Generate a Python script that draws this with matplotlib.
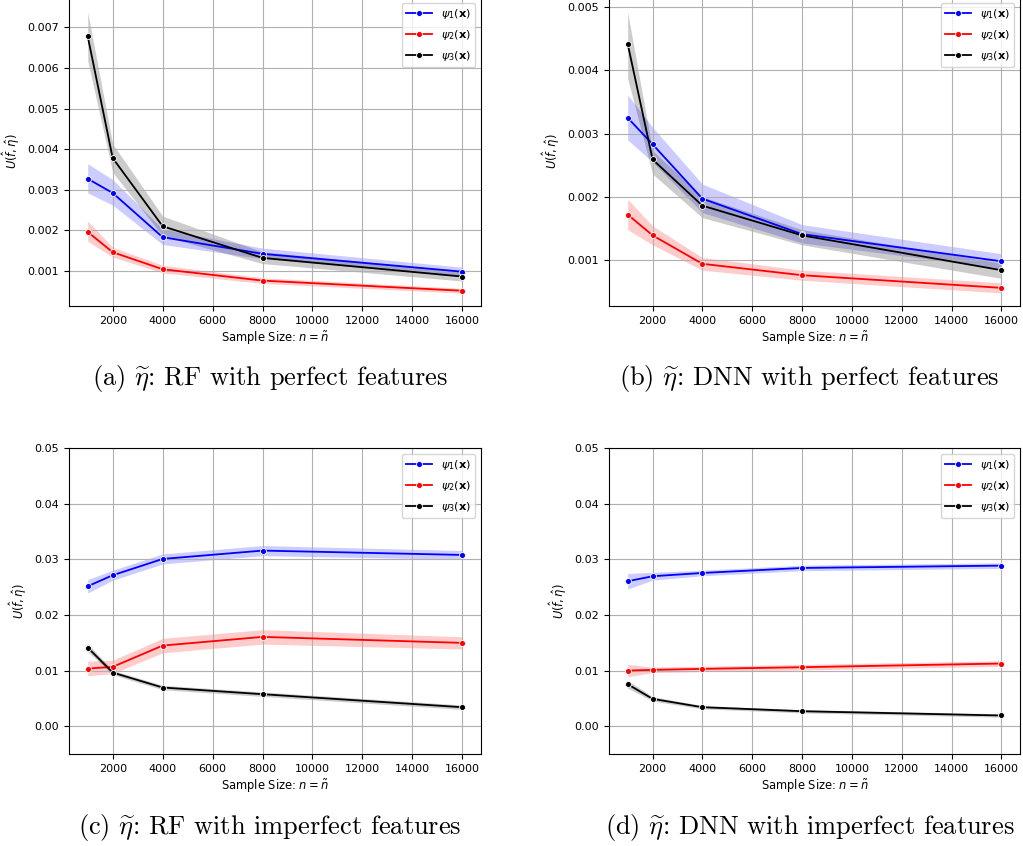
import matplotlib
matplotlib.use("Agg")
import matplotlib.pyplot as plt
import numpy as np

plt.rcParams['mathtext.fontset'] = 'dejavusans'

# sample sizes
sizes = [1000, 2000, 4000, 8000, 16000]
series_names = [r'$\psi_1(\mathbf{x})$', r'$\psi_2(\mathbf{x})$', r'$\psi_3(\mathbf{x})$']
series_colors = ['blue', 'red', 'black']

# (a) RF, perfect features: mean, lower, upper
a_mean = [[0.00327, 0.00292, 0.00183, 0.00142, 0.00098],
          [0.00196, 0.00146, 0.00104, 0.00076, 0.00051],
          [0.00678, 0.00378, 0.00210, 0.00132, 0.00086]]
a_low = [[0.00292, 0.00262, 0.00165, 0.00130, 0.00088],
         [0.00173, 0.00134, 0.00095, 0.00069, 0.00045],
         [0.00618, 0.00343, 0.00186, 0.00118, 0.00075]]
a_high = [[0.00364, 0.00325, 0.00203, 0.00156, 0.00109],
          [0.00223, 0.00158, 0.00114, 0.00083, 0.00057],
          [0.00738, 0.00413, 0.00235, 0.00147, 0.00099]]

# (b) DNN, perfect features
b_mean = [[0.00325, 0.00283, 0.00197, 0.00141, 0.00098],
          [0.00172, 0.00139, 0.00094, 0.00076, 0.00056],
          [0.00442, 0.00259, 0.00186, 0.00139, 0.00084]]
b_low = [[0.00290, 0.00255, 0.00175, 0.00127, 0.00087],
         [0.00148, 0.00124, 0.00084, 0.00068, 0.00048],
         [0.00387, 0.00236, 0.00167, 0.00124, 0.00071]]
b_high = [[0.00361, 0.00310, 0.00220, 0.00156, 0.00110],
          [0.00196, 0.00154, 0.00104, 0.00084, 0.00064],
          [0.00492, 0.00273, 0.00200, 0.00148, 0.00095]]

# (c) RF, imperfect features
c_mean = [[0.02515, 0.02713, 0.03006, 0.03156, 0.03078],
          [0.01036, 0.01066, 0.01449, 0.01605, 0.01497],
          [0.01413, 0.00964, 0.00695, 0.00575, 0.00341]]
c_low = [[0.02395, 0.02623, 0.02916, 0.03066, 0.02998],
         [0.00906, 0.00946, 0.01319, 0.01475, 0.01387],
         [0.01343, 0.00924, 0.00655, 0.00535, 0.00301]]
c_high = [[0.02635, 0.02803, 0.03096, 0.03246, 0.03158],
          [0.01166, 0.01186, 0.01579, 0.01735, 0.01607],
          [0.01483, 0.01004, 0.00735, 0.00615, 0.00381]]

# (d) DNN, imperfect features
d_mean = [[0.02605, 0.02695, 0.02754, 0.02844, 0.02886],
          [0.01000, 0.01012, 0.01030, 0.01060, 0.01126],
          [0.00754, 0.00491, 0.00341, 0.00269, 0.00192]]
d_low = [[0.02465, 0.02625, 0.02704, 0.02794, 0.02836],
         [0.00890, 0.00962, 0.00980, 0.01010, 0.01076],
         [0.00684, 0.00451, 0.00311, 0.00239, 0.00162]]
d_high = [[0.02745, 0.02765, 0.02804, 0.02894, 0.02936],
          [0.01110, 0.01062, 0.01080, 0.01110, 0.01176],
          [0.00824, 0.00531, 0.00371, 0.00299, 0.00222]]

captions = [r'(a) $\widetilde{\eta}$: RF with perfect features',
            r'(b) $\widetilde{\eta}$: DNN with perfect features',
            r'(c) $\widetilde{\eta}$: RF with imperfect features',
            r'(d) $\widetilde{\eta}$: DNN with imperfect features']

W, H = 1023, 846
fig = plt.figure(figsize=(W / 100, H / 100), dpi=100)


def px_axes(left, top, right, bottom):
    return fig.add_axes([left / W, 1 - bottom / H, (right - left) / W, (bottom - top) / H])


panels = [
    (px_axes(69, -3, 481, 306), a_mean, a_low, a_high, (0.000134, 0.00775)),
    (px_axes(609, -3, 1020, 306), b_mean, b_low, b_high, (0.000273, 0.00516)),
    (px_axes(69, 448, 481, 754), c_mean, c_low, c_high, (-0.005, 0.05)),
    (px_axes(609, 448, 1020, 754), d_mean, d_low, d_high, (-0.005, 0.05)),
]

for i, (ax, mean, low, high, ylim) in enumerate(panels):
    for k in range(3):
        ax.fill_between(sizes, low[k], high[k], color=series_colors[k], alpha=0.2, lw=0)
        ax.plot(sizes, mean[k], color=series_colors[k], lw=1.3, marker='o', ms=4.3,
                mec='white', mew=0.6, label=series_names[k])
    ax.set_ylim(*ylim)
    ax.set_xlim(250, 16750)
    ax.set_xticks([2000, 4000, 6000, 8000, 10000, 12000, 14000, 16000])
    ax.grid(True, color='#b0b0b0', lw=0.8)
    ax.tick_params(labelsize=8)
    ax.set_xlabel(r'Sample Size: $n = \tilde{n}$', fontsize=8.3, labelpad=3)
    ax.set_ylabel(r'$U(\hat{f},\hat{\eta})$', fontsize=8.3)
    ax.legend(loc='upper right', fontsize=8.2, handlelength=2.2, labelspacing=0.6)

    pos = ax.get_position()
    cx = pos.x0 + pos.width / 2 - 5 / W
    cy = (378 if i < 2 else 827)
    fig.text(cx, 1 - cy / H, captions[i], ha='center', va='center',
             fontsize=19, family='cmr10', math_fontfamily='cm')

fig.savefig('out.png', dpi=100)
